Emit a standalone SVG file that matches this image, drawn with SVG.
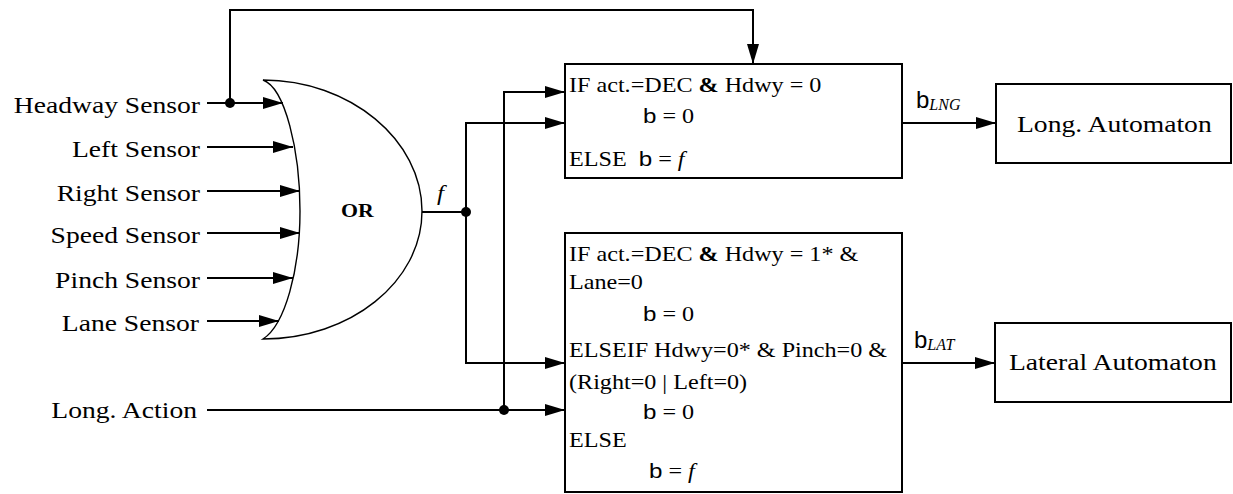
<svg xmlns="http://www.w3.org/2000/svg" width="1233" height="494" viewBox="0 0 1233 494">
<defs>
<marker id="ah" markerUnits="userSpaceOnUse" markerWidth="20" markerHeight="12" refX="20" refY="6" orient="auto">
<path d="M0,0 L20,6 L0,12 z" fill="#000"/>
</marker>
<style>
.t{font-family:"Liberation Serif","Times New Roman",serif;fill:#000}
.s{font-size:24px}
.bx{font-size:21px}
.sans{font-family:"Liberation Sans",Arial,sans-serif}
.it{font-style:italic}
.c{fill:none;stroke:#000;stroke-width:2}
.box{fill:#fff;stroke:#000;stroke-width:2}
.gate{fill:#fff;stroke:#000;stroke-width:1.4}
</style>
</defs>
<rect width="1233" height="494" fill="#fff"/>

<g id="sensors">
<text class="t s" text-anchor="end" transform="translate(200 113) scale(1.15 1)">Headway Sensor</text>
<text class="t s" text-anchor="end" transform="translate(200 157) scale(1.15 1)">Left Sensor</text>
<text class="t s" text-anchor="end" transform="translate(200 201) scale(1.15 1)">Right Sensor</text>
<text class="t s" text-anchor="end" transform="translate(200 243) scale(1.15 1)">Speed Sensor</text>
<text class="t s" text-anchor="end" transform="translate(200 288) scale(1.15 1)">Pinch Sensor</text>
<text class="t s" text-anchor="end" transform="translate(199 331) scale(1.15 1)">Lane Sensor</text>
<text class="t s" text-anchor="end" transform="translate(197 418) scale(1.15 1)">Long. Action</text>
</g>

<g id="or-gate">
<path class="gate" d="M263,80 C350,80 422,140 422,211 C422,282 350,339 263,339 C285,325 300,270 300,211 C300,150 285,88 263,80 z"/>
<text class="t" font-size="19" font-weight="bold" transform="translate(341 217) scale(1.15 1)">OR</text>
</g>

<g id="connectors">
<line class="c" x1="207" y1="103" x2="283" y2="103" marker-end="url(#ah)"/>
<line class="c" x1="207" y1="147" x2="293" y2="147" marker-end="url(#ah)"/>
<line class="c" x1="207" y1="191" x2="300" y2="191" marker-end="url(#ah)"/>
<line class="c" x1="207" y1="233" x2="300" y2="233" marker-end="url(#ah)"/>
<line class="c" x1="207" y1="278" x2="293" y2="278" marker-end="url(#ah)"/>
<line class="c" x1="207" y1="321" x2="279" y2="321" marker-end="url(#ah)"/>
<path class="c" d="M230,103 V10 H753 V64" marker-end="url(#ah)"/>
<circle cx="230" cy="103" r="5" fill="#000"/>
<line class="c" x1="422" y1="212" x2="466" y2="212"/>
<circle cx="466" cy="212" r="5" fill="#000"/>
<text class="t it" font-size="22" transform="translate(437 200) scale(1.15 1)">f</text>
<path class="c" d="M466,212 V123 H565" marker-end="url(#ah)"/>
<path class="c" d="M466,212 V363 H565" marker-end="url(#ah)"/>
<line class="c" x1="207" y1="410" x2="565" y2="410" marker-end="url(#ah)"/>
<circle cx="504" cy="410" r="5" fill="#000"/>
<path class="c" d="M504,410 V92 H565" marker-end="url(#ah)"/>
<line class="c" x1="903" y1="123" x2="996" y2="123" marker-end="url(#ah)"/>
<line class="c" x1="903" y1="363" x2="995" y2="363" marker-end="url(#ah)"/>
<text class="t" transform="translate(916 108)"><tspan class="sans" font-size="24">b</tspan><tspan class="it" font-size="16" dy="2">LNG</tspan></text>
<text class="t" transform="translate(914 348)"><tspan class="sans" font-size="24">b</tspan><tspan class="it" font-size="16" dy="2">LAT</tspan></text>
</g>

<g id="lng-logic">
<rect class="box" x="565" y="64" width="337" height="114"/>
<text class="t bx" transform="translate(569 92) scale(1.15 1)">IF act.=DEC <tspan font-weight="bold">&amp;</tspan> Hdwy = 0</text>
<text class="t bx" transform="translate(643 123) scale(1.15 1)"><tspan class="sans">b</tspan> = 0</text>
<text class="t bx" transform="translate(569 166) scale(1.15 1)" xml:space="preserve">ELSE  <tspan class="sans">b</tspan> = <tspan class="it">f</tspan></text>
</g>

<g id="lat-logic">
<rect class="box" x="565" y="233" width="337" height="259"/>
<text class="t bx" transform="translate(569 261) scale(1.15 1)">IF act.=DEC <tspan font-weight="bold">&amp;</tspan> Hdwy = 1* &amp;</text>
<text class="t bx" transform="translate(569 289) scale(1.15 1)">Lane=0</text>
<text class="t bx" transform="translate(643 321) scale(1.15 1)"><tspan class="sans">b</tspan> = 0</text>
<text class="t bx" transform="translate(569 357) scale(1.15 1)">ELSEIF Hdwy=0* &amp; Pinch=0 &amp;</text>
<text class="t bx" transform="translate(569 389) scale(1.15 1)">(Right=0 | Left=0)</text>
<text class="t bx" transform="translate(643 419) scale(1.15 1)"><tspan class="sans">b</tspan> = 0</text>
<text class="t bx" transform="translate(569 447) scale(1.15 1)">ELSE</text>
<text class="t bx" transform="translate(649 478) scale(1.15 1)"><tspan class="sans">b</tspan> = <tspan class="it">f</tspan></text>
</g>

<g id="long-automaton">
<rect class="box" x="996" y="84" width="235" height="79"/>
<text class="t s" transform="translate(1017 132) scale(1.15 1)">Long. Automaton</text>
</g>

<g id="lateral-automaton">
<rect class="box" x="995" y="323" width="236" height="79"/>
<text class="t s" transform="translate(1009 370) scale(1.15 1)">Lateral Automaton</text>
</g>
</svg>
